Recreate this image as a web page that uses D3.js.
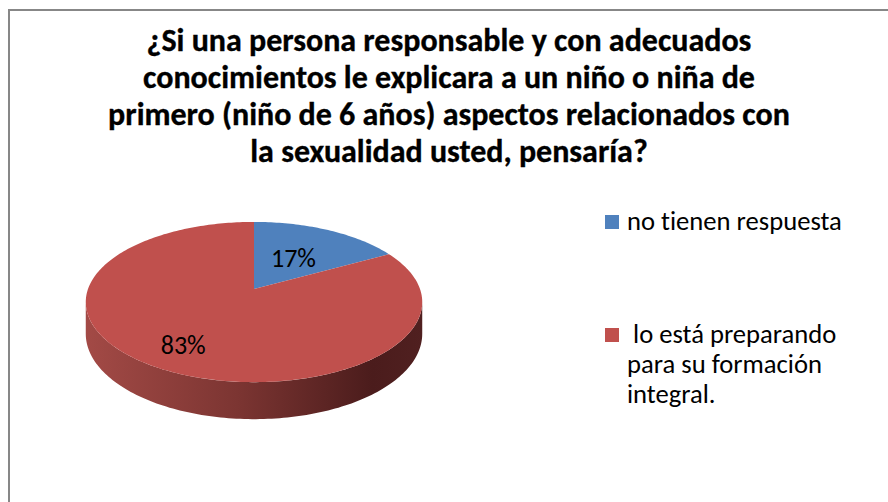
<!DOCTYPE html>
<html>
<head>
<meta charset="utf-8">
<script src="https://cdn.jsdelivr.net/npm/d3@7"></script>
<style>
  body { margin: 0; background: #fff; }
  svg { display: block; }
  text { font-variant-ligatures: none; font-feature-settings: "liga" 0; }
</style>
</head>
<body>
<script>
// data
const categories = ["no tienen respuesta", "lo está preparando para su formación integral."];
const values = [17, 83];
const legendLines = [["no tienen respuesta"], [" lo está preparando", "para su formación", "integral."]];
const titleLines = [
  "¿Si una persona responsable y con adecuados",
  "conocimientos le explicara a un niño o niña de",
  "primero (niño de 6 años) aspectos relacionados con",
  "la sexualidad usted, pensaría?"
];
const colors = ["#4F81BD", "#C0504D"];

const W = 888, H = 502;
const fontFamily = "Carlito, Calibri, Lato, sans-serif";

const svg = d3.select("body").append("svg")
  .attr("width", W)
  .attr("height", H);

// chart area border (only left and top visible in crop)
svg.append("rect")
  .attr("x", 9)
  .attr("y", 10)
  .attr("width", 920)
  .attr("height", 600)
  .attr("fill", "#fff")
  .attr("stroke", "#878787")
  .attr("stroke-width", 2);

// fit a font size so a text reaches a target width
function fitSize(text, weight, target, base) {
  const t = svg.append("text")
    .attr("font-family", fontFamily)
    .attr("font-weight", weight)
    .attr("font-size", base)
    .style("white-space", "pre")
    .text(text);
  const w = t.node().getComputedTextLength();
  t.remove();
  return base * target / w;
}

// title
const titleSize = fitSize(titleLines[2], "bold", 682, 28);
svg.append("g")
  .selectAll("text")
  .data(titleLines)
  .join("text")
  .attr("x", 449)
  .attr("y", (d, i) => 51 + i * 37)
  .attr("text-anchor", "middle")
  .attr("font-family", fontFamily)
  .attr("font-weight", "bold")
  .attr("font-size", titleSize)
  .attr("fill", "#000")
  .attr("stroke", "#000")
  .attr("stroke-width", 0.35)
  .text(d => d);

// 3D pie with a bit of perspective
const cx = 254, cy = 289;
const A = 166, B = 78, e = 0.1625, depth = 31;

function proj(t, k = 1) {
  const s = 1 + e * k * Math.cos(t);
  return [cx + k * A * Math.sin(t) / s, cy - k * B * Math.cos(t) / s];
}
function projLow(t) {
  const s = 1 + e * Math.cos(t);
  const p = proj(t);
  return [p[0], p[1] + depth / s];
}

const pie = d3.pie().sort(null).value(d => d);
const arcs = pie(values);

function arcPoints(a0, a1, f) {
  const n = Math.max(8, Math.ceil((a1 - a0) / 0.02));
  return d3.range(n + 1).map(i => f(a0 + (a1 - a0) * i / n));
}

// side gradient
const defs = svg.append("defs");
const grad = defs.append("linearGradient")
  .attr("id", "side")
  .attr("gradientUnits", "userSpaceOnUse")
  .attr("x1", cx - A * 1.02).attr("x2", cx + A * 1.02)
  .attr("y1", 0).attr("y2", 0);
[[0, "#a34a46"], [0.45, "#7c3532"], [0.85, "#4b1c1c"], [1, "#502020"]].forEach(s => {
  grad.append("stop").attr("offset", s[0]).attr("stop-color", s[1]);
});

// visible front side: between the silhouette points
const tL = Math.acos(-e), tR = 2 * Math.PI - Math.acos(-e);
const line = d3.line();
const sidePts = arcPoints(tL, tR, proj).concat(arcPoints(tL, tR, projLow).reverse());
svg.append("path")
  .attr("d", line(sidePts) + "Z")
  .attr("fill", "url(#side)");

// top faces
svg.append("g")
  .selectAll("path")
  .data(arcs)
  .join("path")
  .attr("d", d => line([[cx, cy]].concat(arcPoints(d.startAngle, d.endAngle, proj))) + "Z")
  .attr("fill", (d, i) => colors[i]);

// percentage labels
const labelK = [0.5, 0.75];
const labelSize = fitSize("83%", "normal", 45, 21);
svg.append("g")
  .selectAll("text")
  .data(arcs)
  .join("text")
  .each(function(d, i) {
    const p = proj((d.startAngle + d.endAngle) / 2, labelK[i]);
    d3.select(this).attr("x", p[0]).attr("y", p[1]);
  })
  .attr("dy", "0.35em")
  .attr("text-anchor", "middle")
  .attr("font-family", fontFamily)
  .attr("font-size", labelSize)
  .attr("fill", "#000")
  .text(d => Math.round(d.value / d3.sum(values) * 100) + "%");

// legend
const legSize = fitSize(legendLines[0][0], "normal", 215, 21);
const legY = [215, 328];
const legend = svg.append("g")
  .selectAll("g")
  .data(categories)
  .join("g")
  .attr("transform", (d, i) => `translate(605,${legY[i]})`);

legend.append("rect")
  .attr("width", 14)
  .attr("height", 14)
  .attr("fill", (d, i) => colors[i]);

legend.append("text")
  .attr("font-family", fontFamily)
  .attr("font-size", legSize)
  .attr("fill", "#000")
  .style("white-space", "pre")
  .selectAll("tspan")
  .data((d, i) => legendLines[i])
  .join("tspan")
  .attr("x", 22)
  .attr("y", (d, j) => 15 + j * 30)
  .text(d => d);
</script>
</body>
</html>
